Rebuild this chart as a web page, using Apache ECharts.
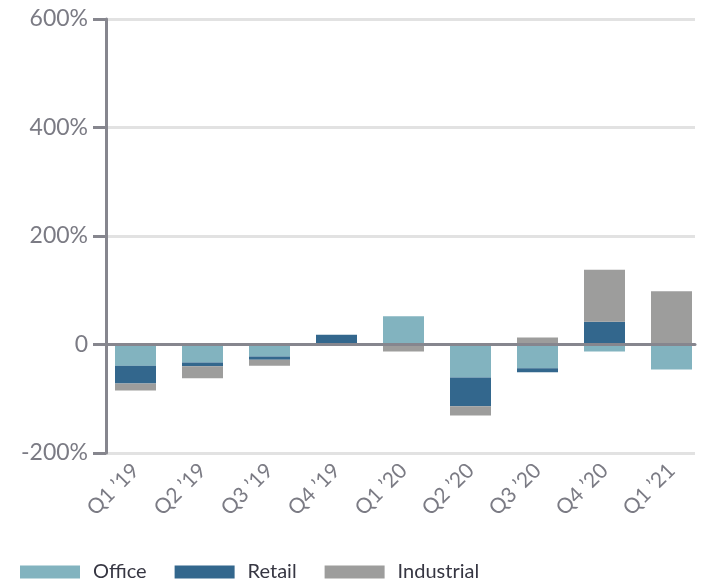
<!DOCTYPE html>
<html>
<head>
<meta charset="utf-8">
<script src="https://cdn.jsdelivr.net/npm/echarts@6/dist/echarts.min.js"></script>
<style>html,body{margin:0;padding:0;background:#fff}#c{width:705px;height:586px}</style>
</head>
<body>
<div id="c"></div>
<script>
const categories = ["Q1 ’19","Q2 ’19","Q3 ’19","Q4 ’19","Q1 ’20","Q2 ’20","Q3 ’20","Q4 ’20","Q1 ’21"];
const office     = [-39, -33, -22, 0, 52, -61, -44, -13, -46];
const retail     = [-33, -7, -6, 18, 0, -53, -7, 42, 0];
const industrial = [-13, -22, -11, 0, -13, -17, 13, 96, 98];
const yTicks = [-200, 0, 200, 400, 600];

const axisCol = '#86868e';
const labelCol = '#7b7b84';
const font = 'Lato';

const chart = echarts.init(document.getElementById('c'));
chart.setOption({
  animation: false,
  textStyle: { fontFamily: font },
  grid: [
    { left: 106, right: 10, top: 19, bottom: 133 },
    { left: 102, right: -4, top: 19, bottom: 133 }
  ],
  legend: {
    data: ['Office','Retail','Industrial'],
    left: 20, bottom: 4, padding: 0,
    icon: 'rect', itemWidth: 60, itemHeight: 13, itemGap: 28,
    textStyle: { fontSize: 20, color: '#363642', fontFamily: font, padding: [0,0,0,8] }
  },
  xAxis: [
    { type: 'category', gridIndex: 0, data: categories, z: 10,
      axisLine: { show: true, onZero: true, lineStyle: { color: axisCol, width: 3 } },
      axisTick: { show: false }, axisLabel: { show: false }, splitLine: { show: false } },
    { type: 'category', gridIndex: 1, data: categories,
      axisLine: { show: false, onZero: false }, axisTick: { show: false },
      axisLabel: { rotate: 45, fontSize: 21, color: labelCol, margin: 14, fontFamily: font } }
  ],
  yAxis: [
    { type: 'value', gridIndex: 0, min: yTicks[0], max: yTicks[yTicks.length-1], interval: 200,
      axisLine: { show: true, lineStyle: { color: axisCol, width: 3 } },
      axisTick: { show: true, length: 13, lineStyle: { color: axisCol, width: 3 } },
      axisLabel: { fontSize: 23, color: labelCol, margin: 18, fontFamily: font,
        formatter: v => v === 0 ? '0' : v + '%' },
      splitLine: { show: true, lineStyle: { color: '#e2e2e2', width: 3 } } },
    { type: 'value', gridIndex: 1, min: yTicks[0], max: yTicks[yTicks.length-1], interval: 200,
      show: false, splitLine: { show: false } }
  ],
  series: [
    { name: 'Office', type: 'bar', stack: 's', xAxisIndex: 1, yAxisIndex: 1, barWidth: 41,
      itemStyle: { color: '#82b3bf' }, data: office },
    { name: 'Retail', type: 'bar', stack: 's', xAxisIndex: 1, yAxisIndex: 1, barWidth: 41,
      itemStyle: { color: '#33678d' }, data: retail },
    { name: 'Industrial', type: 'bar', stack: 's', xAxisIndex: 1, yAxisIndex: 1, barWidth: 41,
      itemStyle: { color: '#9d9d9c' }, data: industrial }
  ]
});
</script>
</body>
</html>
